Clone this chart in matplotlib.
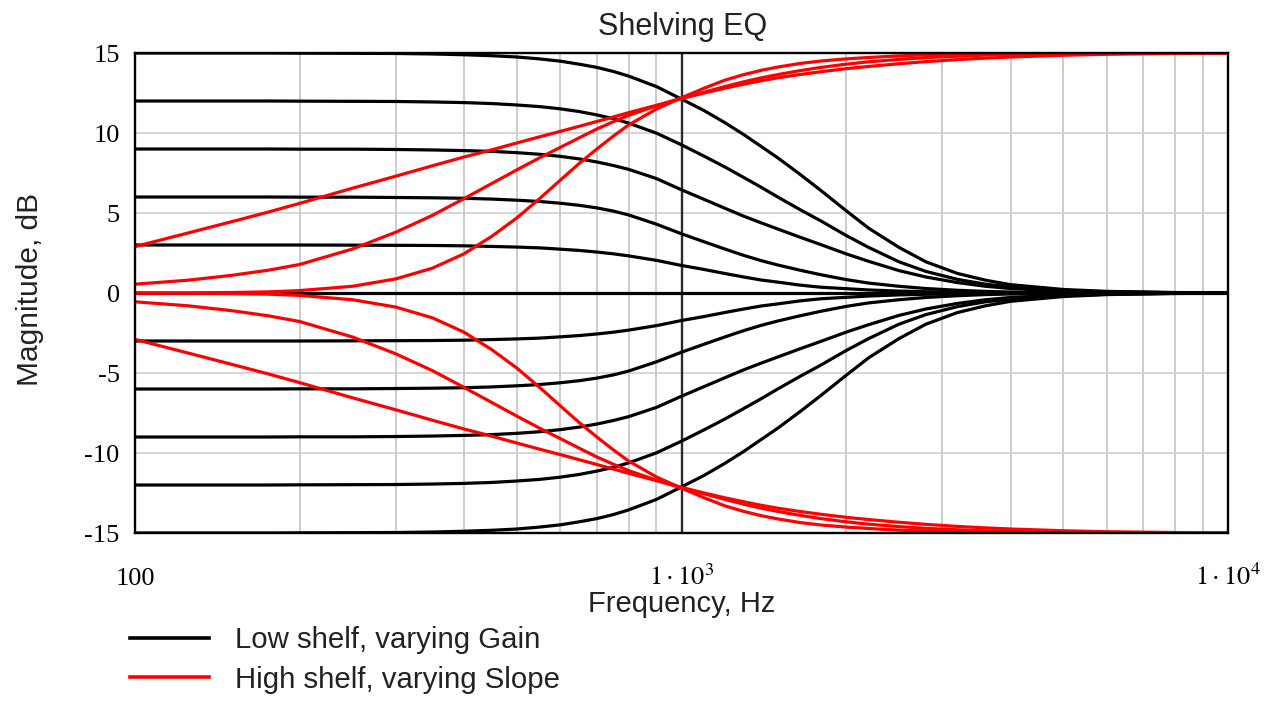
import matplotlib
matplotlib.use("Agg")
import matplotlib.pyplot as plt
from matplotlib.lines import Line2D
from matplotlib.ticker import LogLocator, NullFormatter, FixedLocator

# frequency points (Hz) the curves were read at
freq_hz = [100, 125, 150, 175, 200, 250, 300, 350, 400, 450,
           500, 550, 600, 650, 700, 750, 800, 900,
           1000, 1100, 1200, 1300, 1400, 1500, 1650, 1800,
           2000, 2200, 2500, 2800, 3200, 3600, 4000,
           5000, 6000, 8000, 10000]

# low shelf, varying gain (dB)
low_p15 = [15.0, 15.0, 15.0, 15.0, 14.99, 14.98, 14.97, 14.94, 14.89, 14.83,
           14.75, 14.63, 14.49, 14.3, 14.1, 13.85, 13.56, 12.9,
           12.12, 11.4, 10.65, 9.9, 9.15, 8.45, 7.4, 6.4,
           5.15, 4.05, 2.85, 1.95, 1.22, 0.8, 0.52,
           0.22, 0.1, 0.03, 0.01]
low_p12 = [12.0, 12.0, 12.0, 12.0, 11.99, 11.98, 11.97, 11.94, 11.9, 11.84,
           11.75, 11.65, 11.51, 11.34, 11.13, 10.9, 10.62, 9.99,
           9.26, 8.55, 7.88, 7.22, 6.6, 6.0, 5.2, 4.5,
           3.6, 2.85, 1.95, 1.35, 0.85, 0.55, 0.38,
           0.17, 0.08, 0.02, 0.01]
low_p9 = [9.0, 9.0, 9.0, 9.0, 8.99, 8.99, 8.97, 8.94, 8.9, 8.85,
          8.77, 8.67, 8.54, 8.38, 8.19, 7.97, 7.73, 7.15,
          6.45, 5.85, 5.3, 4.8, 4.38, 4.0, 3.48, 3.02,
          2.45, 1.98, 1.4, 1.0, 0.65, 0.42, 0.28,
          0.12, 0.05, 0.02, 0.0]
low_p6 = [6.0, 6.0, 6.0, 6.0, 5.99, 5.99, 5.97, 5.95, 5.92, 5.87,
          5.8, 5.72, 5.61, 5.48, 5.32, 5.12, 4.88, 4.3,
          3.7, 3.2, 2.75, 2.35, 2.02, 1.75, 1.42, 1.14,
          0.84, 0.62, 0.42, 0.28, 0.17, 0.1, 0.06,
          0.02, 0.01, 0.0, 0.0]
low_p3 = [3.0, 3.0, 3.0, 3.0, 3.0, 2.99, 2.98, 2.97, 2.95, 2.91,
          2.87, 2.82, 2.74, 2.66, 2.56, 2.45, 2.32, 2.04,
          1.72, 1.47, 1.22, 1.0, 0.81, 0.68, 0.49, 0.36,
          0.27, 0.19, 0.12, 0.08, 0.06, 0.04, 0.02,
          0.01, 0.0, 0.0, 0.0]
low_0 = [0.0, 0.0, 0.0, 0.0, 0.0, 0.0, 0.0, 0.0, 0.0, 0.0,
         0.0, 0.0, 0.0, 0.0, 0.0, 0.0, 0.0, 0.0,
         0.0, 0.0, 0.0, 0.0, 0.0, 0.0, 0.0, 0.0,
         0.0, 0.0, 0.0, 0.0, 0.0, 0.0, 0.0,
         0.0, 0.0, 0.0, 0.0]
low_m3 = [-3.0, -3.0, -3.0, -3.0, -3.0, -2.99, -2.98, -2.97, -2.95, -2.91,
          -2.87, -2.82, -2.74, -2.66, -2.56, -2.45, -2.32, -2.04,
          -1.72, -1.47, -1.22, -1.0, -0.81, -0.68, -0.49, -0.36,
          -0.27, -0.19, -0.12, -0.08, -0.06, -0.04, -0.02,
          -0.01, 0.0, 0.0, 0.0]
low_m6 = [-6.0, -6.0, -6.0, -6.0, -5.99, -5.99, -5.97, -5.95, -5.92, -5.87,
          -5.8, -5.72, -5.61, -5.48, -5.32, -5.12, -4.88, -4.3,
          -3.7, -3.2, -2.75, -2.35, -2.02, -1.75, -1.42, -1.14,
          -0.84, -0.62, -0.42, -0.28, -0.17, -0.1, -0.06,
          -0.02, -0.01, 0.0, 0.0]
low_m9 = [-9.0, -9.0, -9.0, -9.0, -8.99, -8.99, -8.97, -8.94, -8.9, -8.85,
          -8.77, -8.67, -8.54, -8.38, -8.19, -7.97, -7.73, -7.15,
          -6.45, -5.85, -5.3, -4.8, -4.38, -4.0, -3.48, -3.02,
          -2.45, -1.98, -1.4, -1.0, -0.65, -0.42, -0.28,
          -0.12, -0.05, -0.02, 0.0]
low_m12 = [-12.0, -12.0, -12.0, -12.0, -11.99, -11.98, -11.97, -11.94, -11.9, -11.84,
           -11.75, -11.65, -11.51, -11.34, -11.13, -10.9, -10.62, -9.99,
           -9.26, -8.55, -7.88, -7.22, -6.6, -6.0, -5.2, -4.5,
           -3.6, -2.85, -1.95, -1.35, -0.85, -0.55, -0.38,
           -0.17, -0.08, -0.02, -0.01]
low_m15 = [-15.0, -15.0, -15.0, -15.0, -14.99, -14.98, -14.97, -14.94, -14.89, -14.83,
           -14.75, -14.63, -14.49, -14.3, -14.1, -13.85, -13.56, -12.9,
           -12.12, -11.4, -10.65, -9.9, -9.15, -8.45, -7.4, -6.4,
           -5.15, -4.05, -2.85, -1.95, -1.22, -0.8, -0.52,
           -0.22, -0.1, -0.03, -0.01]

# high shelf +/-15 dB, varying slope (shallow, middle, steep)
high_up_shallow = [2.9, 3.75, 4.45, 5.05, 5.6, 6.55, 7.3, 7.95, 8.5, 8.95,
                   9.38, 9.76, 10.1, 10.42, 10.72, 11.0, 11.27, 11.73,
                   12.15, 12.5, 12.8, 13.05, 13.27, 13.45, 13.66, 13.83,
                   14.02, 14.16, 14.33, 14.46, 14.59, 14.68, 14.75,
                   14.86, 14.92, 14.97, 15.0]
high_up_mid = [0.55, 0.8, 1.1, 1.42, 1.78, 2.75, 3.8, 4.85, 5.9, 6.85,
               7.7, 8.45, 9.1, 9.7, 10.25, 10.7, 11.1, 11.7,
               12.18, 12.55, 12.9, 13.2, 13.45, 13.65, 13.9, 14.1,
               14.3, 14.45, 14.6, 14.71, 14.8, 14.87, 14.91,
               14.96, 14.98, 15.0, 15.0]
high_up_steep = [0.0, 0.01, 0.03, 0.07, 0.15, 0.42, 0.88, 1.55, 2.45, 3.55,
                 4.7, 5.9, 7.05, 8.1, 9.0, 9.8, 10.5, 11.5,
                 12.2, 12.8, 13.3, 13.65, 13.92, 14.12, 14.35, 14.5,
                 14.63, 14.72, 14.82, 14.88, 14.93, 14.96, 14.97,
                 14.99, 15.0, 15.0, 15.0]
high_dn_shallow = [-2.9, -3.75, -4.45, -5.05, -5.6, -6.55, -7.3, -7.95, -8.5, -8.95,
                   -9.38, -9.76, -10.1, -10.42, -10.72, -11.0, -11.27, -11.73,
                   -12.15, -12.5, -12.8, -13.05, -13.27, -13.45, -13.66, -13.83,
                   -14.02, -14.16, -14.33, -14.46, -14.59, -14.68, -14.75,
                   -14.86, -14.92, -14.97, -15.0]
high_dn_mid = [-0.55, -0.8, -1.1, -1.42, -1.78, -2.75, -3.8, -4.85, -5.9, -6.85,
               -7.7, -8.45, -9.1, -9.7, -10.25, -10.7, -11.1, -11.7,
               -12.18, -12.55, -12.9, -13.2, -13.45, -13.65, -13.9, -14.1,
               -14.3, -14.45, -14.6, -14.71, -14.8, -14.87, -14.91,
               -14.96, -14.98, -15.0, -15.0]
high_dn_steep = [0.0, -0.01, -0.03, -0.07, -0.15, -0.42, -0.88, -1.55, -2.45, -3.55,
                 -4.7, -5.9, -7.05, -8.1, -9.0, -9.8, -10.5, -11.5,
                 -12.2, -12.8, -13.3, -13.65, -13.92, -14.12, -14.35, -14.5,
                 -14.63, -14.72, -14.82, -14.88, -14.93, -14.96, -14.97,
                 -14.99, -15.0, -15.0, -15.0]

y_ticks = [-15, -10, -5, 0, 5, 10, 15]
y_tick_labels = ["-15", "-10", "-5", "0", "5", "10", "15"]
x_ticks = [100, 1000, 10000]
x_tick_labels = ["100", r"$1\cdot10^{3}$", r"$1\cdot10^{4}$"]

plt.rcParams['font.family'] = ['Liberation Sans', 'DejaVu Sans']
plt.rcParams['mathtext.fontset'] = 'stix'

W, H = 1278, 704
fig = plt.figure(figsize=(W / 100, H / 100), dpi=100)
ax = fig.add_axes([135 / W, 1 - 533 / H, (1228 - 135) / W, (533 - 53) / H])

ax.set_xscale('log')
ax.set_xlim(100, 10000)
ax.set_ylim(-15, 15)

# grid
ax.xaxis.set_minor_locator(LogLocator(base=10, subs=range(2, 10)))
ax.xaxis.set_minor_formatter(NullFormatter())
ax.grid(which='minor', axis='x', color='#c4c4c4', linewidth=1.2)
ax.axvline(1000, color='#2b2b2b', linewidth=1.7, zorder=1.5)
ax.yaxis.set_major_locator(FixedLocator(y_ticks))
ax.grid(which='major', axis='y', color='#d0d0d0', linewidth=1.2)
ax.set_axisbelow(True)

lw = 2.3
for curve in [low_p15, low_p12, low_p9, low_p6, low_p3, low_0,
              low_m3, low_m6, low_m9, low_m12, low_m15]:
    ax.plot(freq_hz, curve, color='black', linewidth=lw, zorder=2)
for curve in [high_up_shallow, high_up_mid, high_up_steep,
              high_dn_shallow, high_dn_mid, high_dn_steep]:
    ax.plot(freq_hz, curve, color='#ff0000', linewidth=lw, zorder=3)

for s in ax.spines.values():
    s.set_linewidth(1.7)
    s.set_color('black')
    s.set_zorder(5)

ax.tick_params(which='both', length=0)
ax.set_yticks(y_ticks)
ax.set_yticklabels(y_tick_labels, family='Liberation Serif', fontsize=19)
ax.tick_params(axis='y', pad=11)
ax.set_xticks(x_ticks)
ax.set_xticklabels([])
for xv, lab in zip(x_ticks, x_tick_labels):
    ax.text(xv, -0.108, lab, transform=ax.get_xaxis_transform(), ha='center',
            va='baseline', fontsize=19, family='Liberation Serif')

fig.text(683 / W, 1 - 27 / H, "Shelving EQ", ha='center', va='center', fontsize=22, color='#222222')
fig.text(682 / W, 1 - 604 / H, "Frequency, Hz", ha='center', va='center', fontsize=21, color='#222222')
fig.text(30 / W, 1 - 289 / H, "Magnitude, dB", ha='center', va='center', rotation=90,
         fontsize=21.5, color='#222222')

# legend drawn by hand below the axes
fig.add_artist(Line2D([130 / W, 209 / W], [1 - 638 / H] * 2, color='black', linewidth=2.6))
fig.add_artist(Line2D([130 / W, 209 / W], [1 - 677 / H] * 2, color='#ff0000', linewidth=2.6))
fig.text(235 / W, 1 - 640 / H, "Low shelf, varying Gain", ha='left', va='center', fontsize=21.2, color='#222222')
fig.text(235 / W, 1 - 680 / H, "High shelf, varying Slope", ha='left', va='center', fontsize=21.2, color='#222222')

fig.savefig("out.png", dpi=100)
